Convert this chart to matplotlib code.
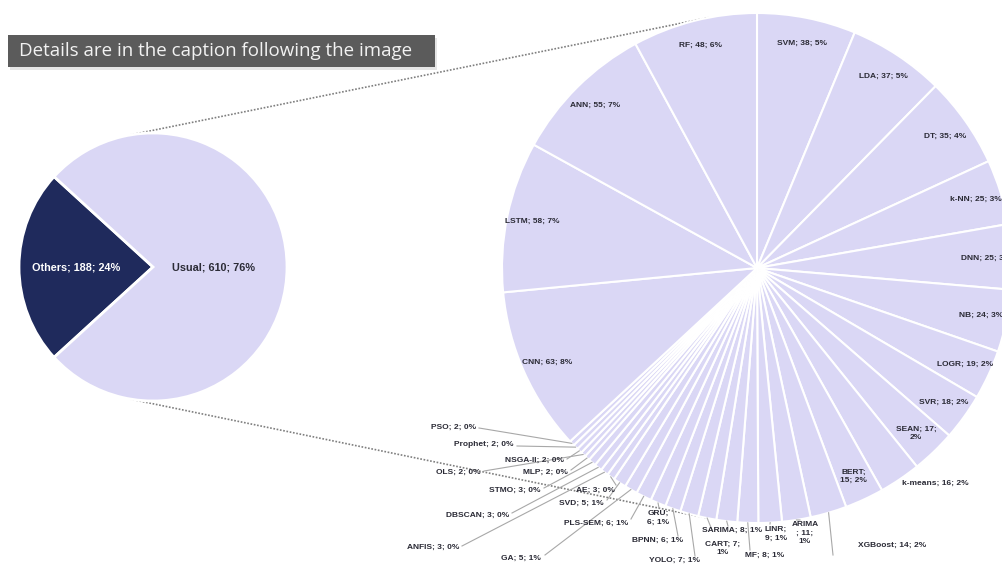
import numpy as np
import matplotlib.pyplot as plt
from matplotlib.patches import Rectangle

W, H = 1002, 566

# first-level split of all methods
split_names = ["Others", "Usual"]
split_values = [188, 610]

# breakdown of the "Usual" group, clockwise from 12 o'clock
names = ["SVM", "LDA", "DT", "k-NN", "DNN", "NB", "LOGR", "SVR", "SEAN", "k-means",
         "BERT", "XGBoost", "ARIMA", "LINR", "MF", "SARIMA", "CART", "YOLO", "BPNN",
         "GRU", "PLS-SEM", "GA", "SVD", "AE", "ANFIS", "DBSCAN", "STMO", "MLP", "OLS",
         "NSGA-II", "Prophet", "PSO", "CNN", "LSTM", "ANN", "RF"]
values = [38, 37, 35, 25, 25, 24, 19, 18, 17, 16,
          15, 14, 11, 9, 8, 8, 7, 7, 6,
          6, 6, 5, 5, 3, 3, 3, 3, 2, 2,
          2, 2, 2, 63, 58, 55, 48]

# labels that wrap onto several lines
wrapped = {"SEAN": "{}; {};\n{}%", "BERT": "{};\n{}; {}%", "ARIMA": "{}\n; {};\n{}%",
           "LINR": "{};\n{}; {}%", "CART": "{}; {};\n{}%", "GRU": "{};\n{}; {}%"}

# outside labels: text anchor (px), ha, va, leader tip (px) or None
outside = {
    "PSO": ((476, 427), "right", "center", (479, 428)),
    "Prophet": ((514, 445), "right", "center", (517, 446)),
    "NSGA-II": ((564, 460), "right", "center", (567, 459)),
    "OLS": ((481, 472), "right", "center", (484, 471)),
    "MLP": ((568, 472), "right", "center", (571, 470)),
    "STMO": ((541, 490), "right", "center", (544, 488)),
    "AE": ((615, 490), "right", "center", (616, 485)),
    "SVD": ((604, 503), "right", "center", (607, 500)),
    "DBSCAN": ((509, 515), "right", "center", (512, 513)),
    "PLS-SEM": ((628, 523), "right", "center", (631, 519)),
    "ANFIS": ((459, 547), "right", "center", (462, 546)),
    "GA": ((541, 558), "right", "center", (545, 555)),
    "GRU": ((658, 510), "center", "top", (659, 508)),
    "BPNN": ((683, 537), "right", "top", (678, 536)),
    "YOLO": ((700, 557), "right", "top", (695, 556)),
    "CART": ((723, 541), "center", "top", (712, 530)),
    "SARIMA": ((732, 527), "center", "top", (728, 526)),
    "MF": ((745, 552), "left", "top", (750, 550)),
    "LINR": ((776, 526), "center", "top", (770, 524)),
    "ARIMA": ((805, 521), "center", "top", (800, 520)),
    "XGBoost": ((858, 545), "left", "center", (833, 555)),
    "k-means": ((935, 483), "center", "center", None),
}

LAV = "#dad7f5"
NAVY = "#1f2a5c"
TXT = "#2b2b36"
FONT = "Liberation Sans"

total = sum(split_values)


def P(x, y):
    # pixel (top-left origin) -> data coords
    return x, H - y


fig = plt.figure(figsize=(W / 100, H / 100), dpi=100)
ax = fig.add_axes([0, 0, 1, 1])

lc, lr = P(153, 267), 134
rc, rr = P(757, 268), 255

others_deg = split_values[0] / total * 360
lw_, _ = ax.pie(split_values, colors=[NAVY, LAV], startangle=180 - others_deg / 2,
                center=lc, radius=lr,
                wedgeprops=dict(edgecolor="white", linewidth=2))
rw_, _ = ax.pie(values, colors=[LAV] * len(values), startangle=90, counterclock=False,
                center=rc, radius=rr,
                wedgeprops=dict(edgecolor="white", linewidth=1.5))

# left pie labels
for w, n, v, f, col in zip(lw_, split_names, split_values, [0.57, 0.45], ["white", TXT]):
    t = np.radians((w.theta1 + w.theta2) / 2)
    ax.text(lc[0] + f * lr * np.cos(t), lc[1] + f * lr * np.sin(t),
            f"{n}; {v}; {round(v / total * 100)}%", ha="center", va="center",
            fontsize=7.8, fontweight="bold", color=col, family=FONT)

# right pie labels
for w, n, v in zip(rw_, names, values):
    pct = round(v / total * 100)
    s = wrapped.get(n, "{}; {}; {}%").format(n, v, pct)
    t = np.radians((w.theta1 + w.theta2) / 2)
    if n in outside:
        (tx, ty), ha, va, tip = outside[n]
        if tip is not None:
            ex, ey = rc[0] + rr * np.cos(t), rc[1] + rr * np.sin(t)
            px, py = P(*tip)
            ax.plot([ex, px], [ey, py], color="#a8a8a8", lw=0.8, zorder=1)
        ax.text(*P(tx, ty), s, ha=ha, va=va, fontsize=6, fontweight="bold",
                color=TXT, family=FONT, linespacing=1.3)
    else:
        ax.text(rc[0] + 0.9 * rr * np.cos(t), rc[1] + 0.9 * rr * np.sin(t), s,
                ha="center", va="center", fontsize=6, fontweight="bold",
                color=TXT, family=FONT, linespacing=1.3)

# dotted connectors between the two pies
for a in (100, -100):
    t0, t1 = np.radians(a), np.radians(a * 1.01)
    ax.plot([lc[0] + lr * np.cos(t0), rc[0] + rr * np.cos(t1)],
            [lc[1] + lr * np.sin(t0), rc[1] + rr * np.sin(t1)],
            color="#7f7f7f", lw=1.2, ls=(0, (1, 1)), zorder=0)

# caption banner
ax.add_patch(Rectangle(P(10, 70), 427, 32, color="#d5d5d5", alpha=0.6, lw=0))
ax.add_patch(Rectangle(P(8, 67), 427, 32, color="#5b5b5b", lw=0))
ax.text(*P(19, 51), "Details are in the caption following the image", ha="left",
        va="center", fontsize=13.5, color="#f2f2f2", family="Open Sans")

ax.set_xlim(0, W)
ax.set_ylim(0, H)
ax.set_aspect("auto")
ax.axis("off")

fig.savefig("out.png", dpi=100, facecolor="white")
